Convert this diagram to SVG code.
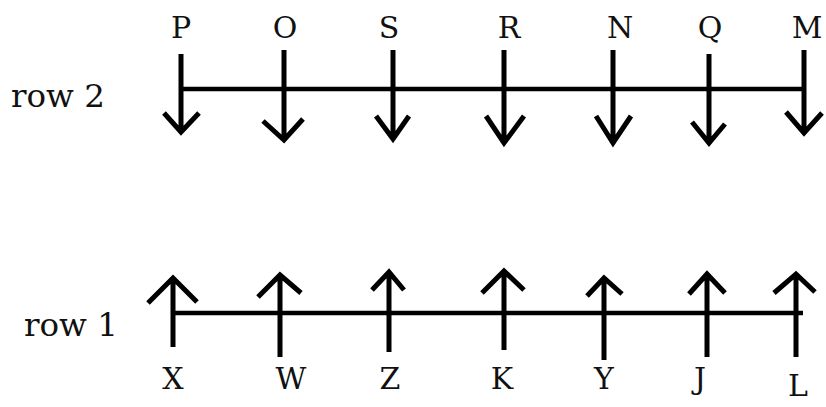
<svg xmlns="http://www.w3.org/2000/svg" width="826" height="407" viewBox="0 0 826 407">
<style>
.lbl{font-family:"DejaVu Serif","Liberation Serif",serif;font-size:30px;fill:#111;text-anchor:middle}
.row{font-family:"DejaVu Serif","Liberation Serif",serif;font-size:32.5px;fill:#111}
.arr{fill:none;stroke:#000;stroke-width:5;stroke-linejoin:miter;stroke-linecap:butt}
.bar{stroke:#000;stroke-width:4.5;fill:none}
</style>
<rect width="826" height="407" fill="#fff"/>
<g id="connectors">
<line class="bar" x1="181" y1="89" x2="804" y2="89"/>
<line class="bar" x1="173" y1="313" x2="803" y2="313"/>
</g>
<g id="row2-label"><text class="row" x="11" y="107">row 2</text></g>
<g id="row1-label"><text class="row" x="24" y="336">row 1</text></g>
<g id="P"><path class="arr" d="M181,54V132M164,113L181,132L199,113"/><text class="lbl" x="181" y="38">P</text></g>
<g id="O"><path class="arr" d="M284,50V140M263,121L284,140L303,119"/><text class="lbl" x="285" y="38">O</text></g>
<g id="S"><path class="arr" d="M393,50V139M376,116L393,139L409,116"/><text class="lbl" x="389" y="38">S</text></g>
<g id="R"><path class="arr" d="M504,50V143M486,116L504,143L524,116"/><text class="lbl" x="509" y="38">R</text></g>
<g id="N"><path class="arr" d="M613,50V143M596,116L613,143L631,116"/><text class="lbl" x="620" y="38">N</text></g>
<g id="Q"><path class="arr" d="M709,54V143M692,122L709,143L725,124"/><text class="lbl" x="710" y="38">Q</text></g>
<g id="M"><path class="arr" d="M804,50V133M786,112L804,133L822,113"/><text class="lbl" x="807" y="38">M</text></g>
<g id="X"><path class="arr" d="M173,347V278M148,303L173,278L197,302"/><text class="lbl" x="173" y="389">X</text></g>
<g id="W"><path class="arr" d="M280,357V275M258,297L280,275L301,293"/><text class="lbl" x="291" y="389">W</text></g>
<g id="Z"><path class="arr" d="M389,352V272M372,290L389,272L404,290"/><text class="lbl" x="390" y="389">Z</text></g>
<g id="K"><path class="arr" d="M504,350V271M482,293L504,271L524,290"/><text class="lbl" x="502" y="389">K</text></g>
<g id="Y"><path class="arr" d="M604,360V278M587,296L604,278L622,294"/><text class="lbl" x="604" y="389">Y</text></g>
<g id="J"><path class="arr" d="M707,357V274M689,294L707,274L725,293"/><text class="lbl" x="700" y="389">J</text></g>
<g id="L"><path class="arr" d="M796,357V274M774,293L796,274L815,292"/><text class="lbl" x="798" y="396">L</text></g>
</svg>
